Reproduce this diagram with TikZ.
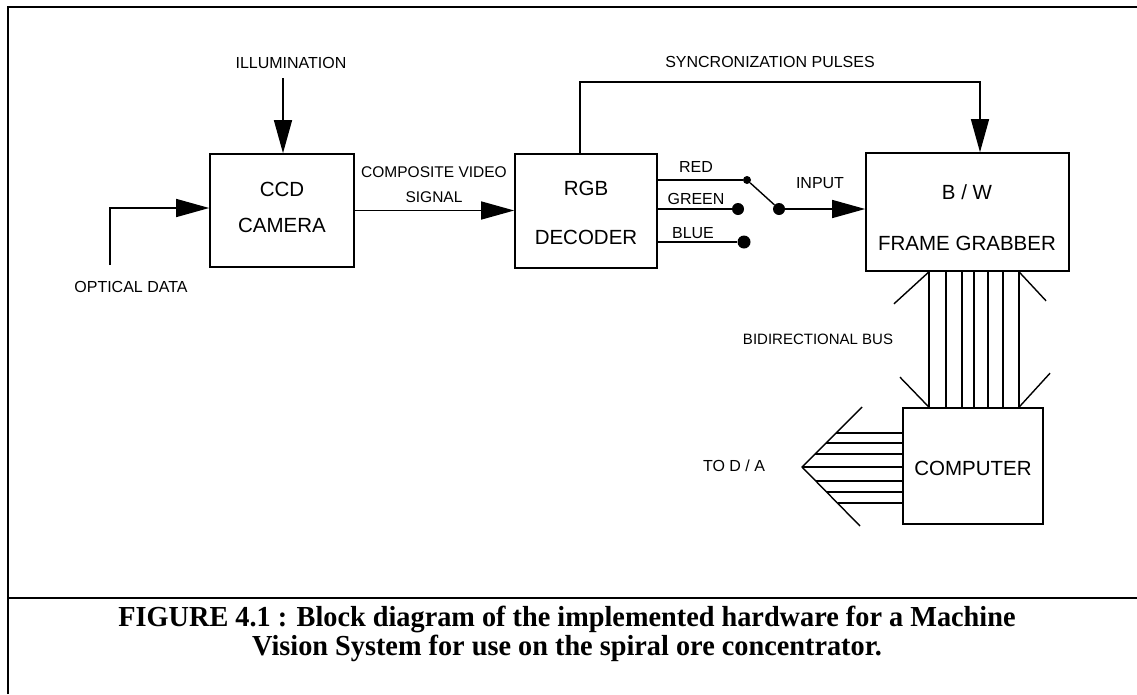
\documentclass[tikz,border=0pt]{standalone}
\usepackage{fontspec}
\setmainfont{Liberation Sans}
\newfontfamily\capfont{Liberation Serif}
\usetikzlibrary{arrows.meta}

\newcommand{\captionline}[1]{\scalebox{0.975}[1]{#1}}

\begin{document}
\begin{tikzpicture}[x=1pt,y=-1pt,
  wire/.style={line width=1.4pt},
  arr/.style={wire,-{Triangle[length=33pt,width=18pt]}},
  box/.style={draw,line width=1.6pt,inner sep=0pt},
  boxtext/.style={font=\fontsize{20.5}{#1}\selectfont,align=center,inner sep=0pt},
  tag/.style={font=\fontsize{16}{16}\selectfont,inner sep=0pt},
  jack/.style={circle,fill,inner sep=0pt,minimum size=#1},
  frameline/.style={line width=2.4pt},
  captext/.style={font=\capfont\bfseries\fontsize{29}{30}\selectfont,inner sep=0pt,anchor=base}]

\useasboundingbox (0,0) rectangle (1137,694);
\fill[white] (0,0) rectangle (1137,694);

% page frame and caption rule
\draw[frameline] (8,694) -- (8,7) -- (1137,7);
\draw[frameline] (8,598) -- (1137,598);

% blocks
\node[box,minimum width=144pt,minimum height=113pt] (cam) at (282,210.5) {};
\node[boxtext=36] (camtext) at (282,207) {CCD\\CAMERA};
\node[box,minimum width=142pt,minimum height=114pt] (dec) at (586,211) {};
\node[boxtext=49] (dectext) at (586,212.5) {RGB\\DECODER};
\node[box,minimum width=203pt,minimum height=118pt] (fg) at (967.5,212) {};
\node[boxtext=51] (fgtext) at (967,217.5) {B / W\\FRAME GRABBER};
\node[box,minimum width=140pt,minimum height=116pt] (comp) at (973,466) {};
\node[boxtext=24] (comptext) at (973,468) {COMPUTER};

% illumination input
\node[tag] (illum) at (291,63) {ILLUMINATION};
\coordinate (illumtail) at (283,78);
\draw[arr] (illumtail) -- (illumtail |- cam.north);

% optical data input
\node[tag] (optical) at (131,287) {OPTICAL DATA};
\coordinate (optictail) at (110,265);
\coordinate (opticturn) at (110,208);
\draw[arr] (optictail) -- (opticturn) -- (opticturn -| cam.west);

% composite video
\node[tag,font=\fontsize{15.5}{25}\selectfont,align=center] (cvs) at (434,184.5) {COMPOSITE VIDEO\\SIGNAL};
\draw[arr] (cam.east) -- (cam.east -| dec.west);

% synchronization pulses
\node[tag] (sync) at (770,62) {SYNCRONIZATION PULSES};
\coordinate (syncturn) at (980,82);
\draw[arr] ([xshift=-6pt]dec.north) |- (syncturn) -- (syncturn |- fg.north);

% colour selector switch
\node[jack=8pt] (red) at (747,180) {};
\node[jack=12pt] (green) at (738,209) {};
\node[jack=13pt] (blue) at (744,242) {};
\node[jack=12pt] (pivot) at (779,209) {};
\draw[wire] (red -| dec.east) -- (red);
\draw[wire] (green -| dec.east) -- (green);
\draw[wire] (blue -| dec.east) -- (blue);
\draw[wire] (pivot) -- (red);
\node[tag] (redlbl) at (696,167) {RED};
\node[tag] (greenlbl) at (696,199) {GREEN};
\node[tag] (bluelbl) at (693,233) {BLUE};
\node[tag] (inputlbl) at (820,183) {INPUT};
\draw[arr] (pivot) -- (pivot -| fg.west);

% bidirectional bus
\foreach \x in {929,946,962,974,988,1003,1019}
  \draw[wire,line width=1.2pt] (fg.south -| \x,0) -- (comp.north -| \x,0);
\draw[wire] (fg.south -| 929,0) -- +(-35,32);
\draw[wire] (fg.south -| 1019,0) -- +(27,29);
\draw[wire] (comp.north -| 929,0) -- +(-29,-30);
\draw[wire] (comp.north -| 1019,0) -- +(31,-34);
\node[tag,font=\fontsize{15}{15}\selectfont] (buslbl) at (818,339) {BIDIRECTIONAL BUS};

% output bus to the D/A converter
\coordinate (datip) at (802,467);
\draw[wire] (862,407) -- (datip) -- (860,526);
\foreach \y in {433,443,454,467,481,492,503}
  \draw[wire] ({802+abs(\y-467)},\y) -- (comp.west |- 0,\y);
\node[tag] (dalbl) at (734,466) {TO D / A};

% caption
\node[captext] (cap1) at (567,626) {\captionline{FIGURE 4.1 : Block diagram of the implemented hardware for a Machine}};
\node[captext] (cap2) at (567,655) {\captionline{Vision System for use on the spiral ore concentrator.}};
\end{tikzpicture}
\end{document}
